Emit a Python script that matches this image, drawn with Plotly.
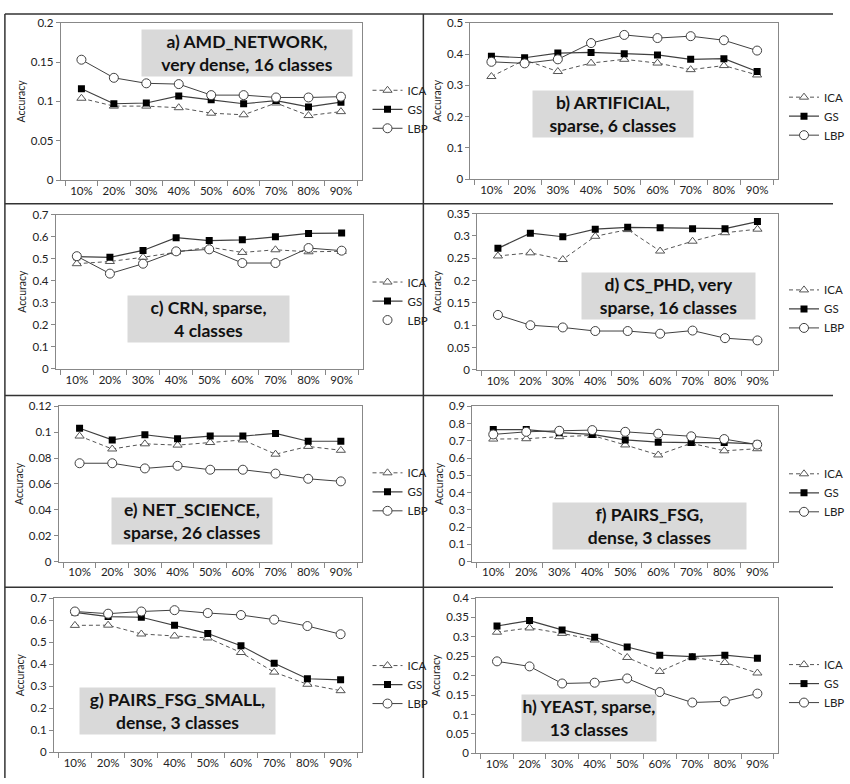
import plotly.graph_objects as go

W, H = 850, 784

categories = ["10%", "20%", "30%", "40%", "50%", "60%", "70%", "80%", "90%"]

# a) AMD_NETWORK
a_ica = [0.104, 0.094, 0.094, 0.092, 0.085, 0.083, 0.098, 0.082, 0.087]
a_gs = [0.116, 0.097, 0.098, 0.107, 0.102, 0.097, 0.101, 0.093, 0.099]
a_lbp = [0.153, 0.130, 0.123, 0.122, 0.108, 0.108, 0.105, 0.105, 0.106]
# b) ARTIFICIAL
b_ica = [0.328, 0.381, 0.344, 0.371, 0.383, 0.371, 0.350, 0.363, 0.333]
b_gs = [0.393, 0.388, 0.403, 0.405, 0.401, 0.397, 0.383, 0.385, 0.344]
b_lbp = [0.375, 0.370, 0.383, 0.435, 0.461, 0.451, 0.457, 0.444, 0.411]
# c) CRN
c_ica = [0.477, 0.487, 0.506, 0.530, 0.552, 0.528, 0.540, 0.531, 0.533]
c_gs = [0.509, 0.506, 0.537, 0.595, 0.582, 0.585, 0.599, 0.614, 0.616]
c_lbp = [0.511, 0.432, 0.477, 0.533, 0.542, 0.480, 0.480, 0.548, 0.536]
# d) CS_PHD
d_ica = [0.255, 0.262, 0.247, 0.299, 0.314, 0.266, 0.288, 0.307, 0.315]
d_gs = [0.272, 0.306, 0.298, 0.315, 0.319, 0.318, 0.316, 0.316, 0.332]
d_lbp = [0.123, 0.100, 0.095, 0.087, 0.087, 0.081, 0.088, 0.071, 0.066]
# e) NET_SCIENCE
e_ica = [0.097, 0.087, 0.091, 0.090, 0.092, 0.094, 0.083, 0.089, 0.086]
e_gs = [0.103, 0.094, 0.098, 0.095, 0.097, 0.097, 0.099, 0.093, 0.093]
e_lbp = [0.076, 0.076, 0.072, 0.074, 0.071, 0.071, 0.068, 0.064, 0.062]
# f) PAIRS_FSG
f_ica = [0.710, 0.712, 0.724, 0.731, 0.676, 0.618, 0.686, 0.642, 0.654]
f_gs = [0.765, 0.765, 0.747, 0.737, 0.705, 0.692, 0.690, 0.690, 0.682]
f_lbp = [0.737, 0.752, 0.758, 0.762, 0.752, 0.741, 0.726, 0.710, 0.678]
# g) PAIRS_FSG_SMALL
g_ica = [0.576, 0.577, 0.537, 0.528, 0.519, 0.453, 0.364, 0.309, 0.280]
g_gs = [0.635, 0.616, 0.613, 0.577, 0.539, 0.484, 0.404, 0.334, 0.329]
g_lbp = [0.639, 0.629, 0.639, 0.645, 0.632, 0.623, 0.602, 0.573, 0.536]
# h) YEAST
h_ica = [0.312, 0.323, 0.309, 0.292, 0.247, 0.211, 0.248, 0.234, 0.207]
h_gs = [0.328, 0.342, 0.318, 0.299, 0.274, 0.253, 0.249, 0.253, 0.245]
h_lbp = [0.237, 0.224, 0.180, 0.182, 0.193, 0.158, 0.131, 0.134, 0.154]

titles = [
    "a) AMD_NETWORK,<br>very dense, 16 classes",
    "b) ARTIFICIAL,<br>sparse, 6 classes",
    "c) CRN, sparse,<br>4 classes",
    "d) CS_PHD, very<br>sparse, 16 classes",
    "e) NET_SCIENCE,<br>sparse, 26 classes",
    "f) PAIRS_FSG,<br>dense, 3 classes",
    "g) PAIRS_FSG_SMALL,<br>dense, 3 classes",
    "h) YEAST, sparse,<br>13 classes",
]
ica_all = [a_ica, b_ica, c_ica, d_ica, e_ica, f_ica, g_ica, h_ica]
gs_all = [a_gs, b_gs, c_gs, d_gs, e_gs, f_gs, g_gs, h_gs]
lbp_all = [a_lbp, b_lbp, c_lbp, d_lbp, e_lbp, f_lbp, g_lbp, h_lbp]
y_max = [0.2, 0.5, 0.7, 0.35, 0.12, 0.9, 0.7, 0.4]
y_step = [0.05, 0.1, 0.1, 0.05, 0.02, 0.1, 0.1, 0.05]

# layout (pixels): plot boxes (x0, y0, x1, y1)
plot_boxes = [
    (62, 16, 369, 176), (480, 16, 794, 175),
    (57, 211, 370, 368), (487, 210, 794, 369),
    (60, 406, 369, 564), (482, 406, 794, 564),
    (55, 601, 369, 758), (486, 601, 794, 759),
]
# title boxes (x0, y0, x1, y1)
title_boxes = [
    (148, 23, 356, 70), (546, 88, 704, 130),
    (133, 292, 292, 342), (597, 270, 768, 317),
    (117, 502, 275, 543), (567, 505, 758, 550),
    (85, 689, 278, 742), (535, 698, 667, 747),
]
# legend anchor (left x of symbol line, center y of GS item)
legend_pos = [
    (383, 104), (808, 111), (383, 299), (808, 307),
    (383, 493), (808, 494), (383, 689), (808, 688),
]

FONT = "Lato"
LINE_COL = "#404040"
fig = go.Figure()
layout = dict(
    width=W, height=H, margin=dict(l=0, r=0, t=0, b=0),
    paper_bgcolor="white", plot_bgcolor="white",
    font=dict(family=FONT, size=11, color="#222"),
    annotations=[], shapes=[],
)

for i in range(8):
    ax = "" if i == 0 else str(i + 1)
    xref, yref = "x" + ax, "y" + ax
    leg = "legend" if i == 0 else "legend" + str(i + 1)
    fig.add_trace(go.Scatter(
        x=categories, y=ica_all[i], name="ICA", xaxis=xref, yaxis=yref, legend=leg,
        legendgroup=f"ica{i}", mode="lines+markers",
        line=dict(color="#555", width=1, dash="4px,3px"),
        marker=dict(symbol="triangle-up", size=8, color="white", line=dict(color="#555", width=1)),
    ))
    fig.add_trace(go.Scatter(
        x=categories, y=gs_all[i], name="GS", xaxis=xref, yaxis=yref, legend=leg,
        legendgroup=f"gs{i}", mode="lines+markers",
        line=dict(color=LINE_COL, width=1.2),
        marker=dict(symbol="square", size=7, color="black"),
    ))
    fig.add_trace(go.Scatter(
        x=categories, y=lbp_all[i], name="LBP", xaxis=xref, yaxis=yref, legend=leg,
        legendgroup=f"lbp{i}", mode="lines+markers", showlegend=(i != 2),
        line=dict(color=LINE_COL, width=1),
        marker=dict(symbol="circle", size=9, color="white", line=dict(color=LINE_COL, width=1)),
    ))
    if i == 2:
        fig.add_trace(go.Scatter(
            x=[None], y=[None], name="LBP", xaxis=xref, yaxis=yref, legend=leg,
            legendgroup=f"lbpx{i}", mode="markers",
            marker=dict(symbol="circle", size=9, color="white", line=dict(color=LINE_COL, width=1)),
        ))

    x0, y0, x1, y1 = plot_boxes[i]
    layout["xaxis" + ax] = dict(
        domain=[x0 / W, x1 / W], anchor=yref, type="category",
        showline=True, linecolor="#888", linewidth=1, mirror=True,
        ticks="outside", tickson="boundaries", ticklen=5, tickcolor="#888",
        showgrid=False, tickfont=dict(family=FONT, size=11.5, color="#222"),
        fixedrange=True,
    )
    layout["yaxis" + ax] = dict(
        domain=[1 - y1 / H, 1 - y0 / H], anchor=xref,
        range=[0, y_max[i]], dtick=y_step[i], tick0=0,
        showline=True, linecolor="#888", linewidth=1, mirror=True,
        ticks="outside", ticklen=4, tickcolor="#888",
        showgrid=False, zeroline=False,
        tickfont=dict(family=FONT, size=11.5, color="#222"),
        title=dict(text="Accuracy", font=dict(family=FONT, size=10.5, color="#222"), standoff=3),
        fixedrange=True,
    )
    lx, ly = legend_pos[i]
    layout[leg] = dict(
        x=(lx - 8) / W, y=1 - ly / H, xanchor="left", yanchor="middle",
        bgcolor="rgba(0,0,0,0)", font=dict(family=FONT, size=11.5, color="#222"),
        tracegroupgap=0, itemwidth=30,
    )
    tx0, ty0, tx1, ty1 = title_boxes[i]
    layout["annotations"].append(dict(
        xref="paper", yref="paper",
        x=(tx0 + tx1) / 2 / W, y=1 - (ty0 + ty1) / 2 / H,
        xanchor="center", yanchor="middle",
        width=tx1 - tx0, borderpad=1,
        text="<b>" + titles[i] + "</b>", showarrow=False,
        bgcolor="#d9d9d9", align="center",
        font=dict(family=FONT, size=17.5, color="#111"),
    ))

# panel borders
border = dict(color="#333", width=1.5)
for (bx0, by0, bx1, by1) in [
    (5, 7, 850, 7), (5, 7, 5, 784), (432, 7, 432, 784),
    (5, 200, 850, 200), (5, 395, 850, 395), (5, 590, 850, 590),
]:
    layout["shapes"].append(dict(
        type="line", xref="paper", yref="paper",
        x0=bx0 / W, x1=bx1 / W, y0=1 - by0 / H, y1=1 - by1 / H, line=border,
    ))

fig.update_layout(**layout)
fig.write_html("out.html")
